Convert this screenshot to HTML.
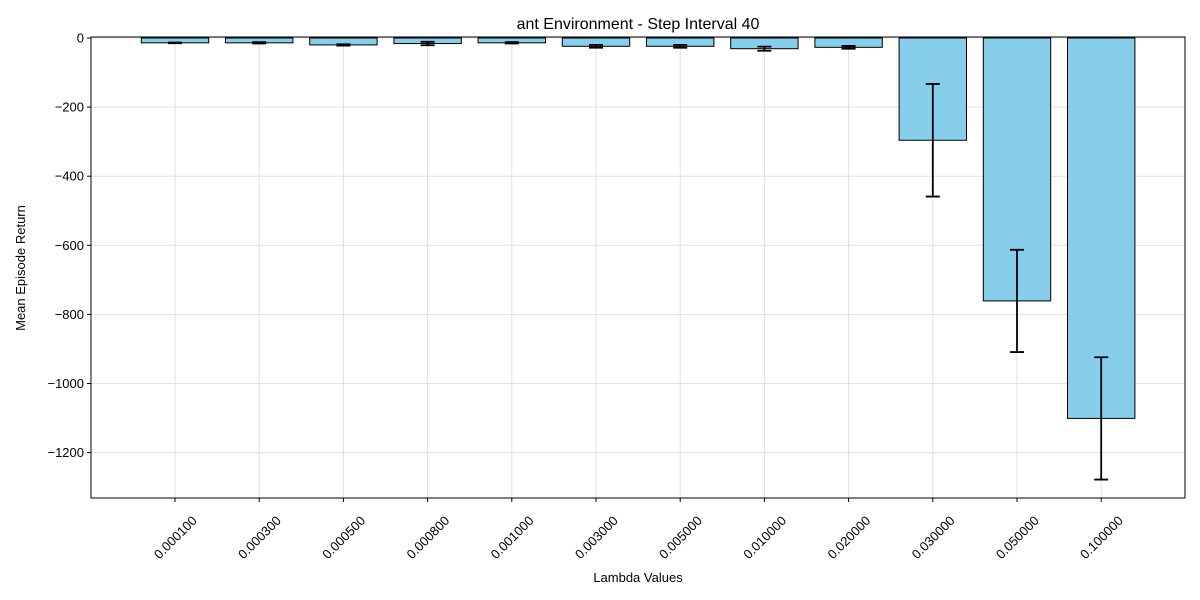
<!DOCTYPE html>
<html><head><meta charset="utf-8"><style>body{margin:0;background:#fff}svg{display:block;font-family:"Liberation Sans",sans-serif}</style></head>
<body>
<svg id="chart" width="1200" height="600" xmlns="http://www.w3.org/2000/svg"></svg>
<script>
const categories=["0.000100","0.000300","0.000500","0.000800","0.001000","0.003000","0.005000","0.010000","0.020000","0.030000","0.050000","0.100000"];
const means=[-14,-14,-20,-16,-14,-24,-24,-31,-27,-296,-761,-1101];
const errors=[1,2,2,5,2,4,4,6,4,163,148,177];
const yTicks=[0,-200,-400,-600,-800,-1000,-1200];
const L=91,R=1185,T=37,B=498,y0=38,k=0.3455;
const y=v=>y0-v*k;
const step=(R-L)/(categories.length+0.5-(-0.5)+0.2);
const x=i=>175+i*84.2;
const bw=67.4;
const s=document.getElementById('chart');
const NS="http://www.w3.org/2000/svg";
function mk(t,a,txt){const e=document.createElementNS(NS,t);for(const q in a)e.setAttribute(q,a[q]);if(txt!=null)e.textContent=txt;s.appendChild(e);return e;}
// grid
yTicks.forEach(v=>{const g=mk('line',{x1:L,x2:R,y1:y(v),y2:y(v),stroke:'#e0e0e0','stroke-width':1});

});
categories.forEach((c,i)=>{const g=mk('line',{x1:x(i),x2:x(i),y1:T,y2:B,stroke:'#e0e0e0','stroke-width':1});

});
// bars
categories.forEach((c,i)=>{const v=means[i];
const b=mk('rect',{x:x(i)-bw/2,y:y(0),width:bw,height:y(v)-y(0),fill:'#87ceeb',stroke:'#000','stroke-width':1});


const e=errors[i];
const eg=mk('path',{d:`M${x(i)},${y(v+e)}V${y(v-e)}M${x(i)-7},${y(v+e)}h14M${x(i)-7},${y(v-e)}h14`,stroke:'#000','stroke-width':1.8,fill:'none'});

});
// axes frame
const f=mk('rect',{x:L,y:T,width:R-L,height:B-T,fill:'none',stroke:'#000','stroke-width':1});


// y ticks
yTicks.forEach(v=>{mk('line',{x1:L-4,x2:L,y1:y(v),y2:y(v),stroke:'#000'});
const t=mk('text',{x:L-7,y:y(v)+4.5,'text-anchor':'end','font-size':13},(v<0?'\u2212'+(-v):v));

});
// x ticks
categories.forEach((c,i)=>{mk('line',{x1:x(i),x2:x(i),y1:B,y2:B+4,stroke:'#000'});
const t=mk('text',{x:x(i),y:542,'text-anchor':'middle','font-size':13,transform:`rotate(-45 ${x(i)} 537)`},c);

});
const ti=mk('text',{x:638,y:29,'text-anchor':'middle','font-size':16},'ant Environment - Step Interval 40');


const xl=mk('text',{x:638,y:582,'text-anchor':'middle','font-size':13},'Lambda Values');


const yl=mk('text',{x:25,y:268,'text-anchor':'middle','font-size':13,transform:'rotate(-90 25 268)'},'Mean Episode Return');


</script>
</body></html>
